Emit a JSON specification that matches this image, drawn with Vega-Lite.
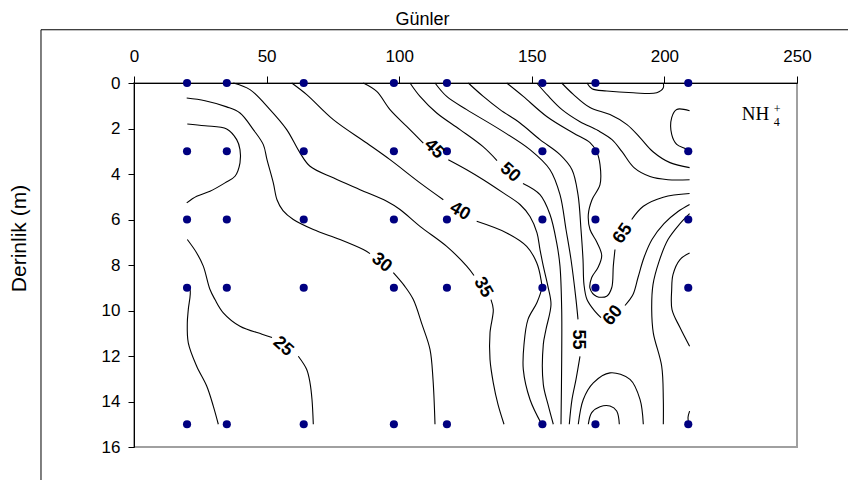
{
  "$schema": "https://vega.github.io/schema/vega-lite/v6.json",
  "width": 663,
  "height": 364,
  "autosize": "none",
  "padding": {"left": 134, "top": 83, "right": 51, "bottom": 33},
  "background": "white",
  "config": {
    "view": {"stroke": "#a0a0a0", "strokeWidth": 2},
    "font": "Liberation Sans",
    "axis": {
      "grid": false, "labelFont": "Liberation Sans", "titleFont": "Liberation Sans",
      "labelColor": "#000", "titleColor": "#000", "tickColor": "#000", "domainColor": "#000",
      "tickWidth": 1, "domainWidth": 1, "labelFontSize": 17, "titleFontWeight": "normal",
      "labelFlush": false, "labelOverlap": false, "titleBaseline": "middle", "titleAlign": "center"
    },
    "axisX": {"labelPadding": 11, "tickSize": 7, "titleX": 288, "titleY": -64, "titleFontSize": 18},
    "axisY": {"labelPadding": 8, "tickSize": 6, "titleX": -115, "titleY": 155, "titleAngle": -90, "titleFontSize": 21}
  },
  "datasets": {
    "pts": [
      {"d":20,"z":0},{"d":35,"z":0},{"d":64,"z":0},{"d":98,"z":0},{"d":118,"z":0},{"d":154,"z":0},{"d":174,"z":0},{"d":209,"z":0},
      {"d":20,"z":3},{"d":35,"z":3},{"d":64,"z":3},{"d":98,"z":3},{"d":118,"z":3},{"d":154,"z":3},{"d":174,"z":3},{"d":209,"z":3},
      {"d":20,"z":6},{"d":35,"z":6},{"d":64,"z":6},{"d":98,"z":6},{"d":118,"z":6},{"d":154,"z":6},{"d":174,"z":6},{"d":209,"z":6},
      {"d":20,"z":9},{"d":35,"z":9},{"d":64,"z":9},{"d":98,"z":9},{"d":118,"z":9},{"d":154,"z":9},{"d":174,"z":9},{"d":209,"z":9},
      {"d":20,"z":15},{"d":35,"z":15},{"d":64,"z":15},{"d":98,"z":15},{"d":118,"z":15},{"d":154,"z":15},{"d":174,"z":15},{"d":209,"z":15}
    ],
    "labels": [
      {"v":"25","d":56.18,"z":11.58},
      {"v":"30","d":93.4,"z":7.9},
      {"v":"35","d":131.6,"z":8.99},
      {"v":"40","d":122.93,"z":5.65},
      {"v":"45","d":113.12,"z":2.9},
      {"v":"50","d":141.78,"z":3.94},
      {"v":"55","d":167.42,"z":11.27},
      {"v":"60","d":180.62,"z":10.22},
      {"v":"65","d":184.39,"z":6.62}
    ],
    "lines": [
      {"c":"20","d":19.87,"z":8.93},{"c":"20","d":21.12,"z":9.08},{"c":"20","d":20.47,"z":9.96},{"c":"20","d":20.1,"z":10.54},{"c":"20","d":20.47,"z":11.42},{"c":"20","d":23.64,"z":12.45},{"c":"20","d":27.41,"z":13.32},{"c":"20","d":29.9,"z":14.2},{"c":"20","d":31.79,"z":15.0},

      {"c":"25a","d":20.1,"z":1.8},{"c":"25a","d":26.77,"z":1.88},{"c":"25a","d":34.95,"z":2.02},{"c":"25a","d":38.73,"z":2.49},{"c":"25a","d":39.97,"z":2.93},{"c":"25a","d":39.97,"z":3.51},{"c":"25a","d":38.08,"z":4.1},{"c":"25a","d":34.31,"z":4.39},{"c":"25a","d":28.66,"z":4.76},{"c":"25a","d":23.64,"z":4.98},{"c":"25a","d":19.87,"z":5.27},

      {"c":"25b1","d":20.1,"z":6.88},{"c":"25b1","d":23.64,"z":7.47},{"c":"25b1","d":26.13,"z":8.05},{"c":"25b1","d":28.66,"z":9.08},{"c":"25b1","d":30.54,"z":9.52},{"c":"25b1","d":33.67,"z":10.1},{"c":"25b1","d":39.97,"z":10.69},{"c":"25b1","d":48.27,"z":11.04},{"c":"25b1","d":52.04,"z":11.19},
      {"c":"25b2","d":61.95,"z":12.01},{"c":"25b2","d":65.12,"z":12.59},{"c":"25b2","d":66.37,"z":13.18},{"c":"25b2","d":67.12,"z":13.91},{"c":"25b2","d":67.61,"z":15.0},

      {"c":"30a","d":19.87,"z":0.66},{"c":"30a","d":26.77,"z":0.78},{"c":"30a","d":34.95,"z":1.05},{"c":"30a","d":39.97,"z":1.32},{"c":"30a","d":44.99,"z":2.05},{"c":"30a","d":48.76,"z":2.71},{"c":"30a","d":50.15,"z":3.37},{"c":"30a","d":52.53,"z":4.39},{"c":"30a","d":53.92,"z":5.13},{"c":"30a","d":56.18,"z":5.61},{"c":"30a","d":60.07,"z":6.0},{"c":"30a","d":67.61,"z":6.44},{"c":"30a","d":77.68,"z":6.88},{"c":"30a","d":86.46,"z":7.32},{"c":"30a","d":88.99,"z":7.5},
      {"c":"30b","d":97.78,"z":8.34},{"c":"30b","d":102.19,"z":8.95},{"c":"30b","d":105.32,"z":9.52},{"c":"30b","d":108.6,"z":10.61},{"c":"30b","d":111.61,"z":11.71},{"c":"30b","d":112.75,"z":13.03},{"c":"30b","d":113.5,"z":15.0},

      {"c":"35a","d":37.44,"z":0},{"c":"35a","d":43.74,"z":0.29},{"c":"35a","d":51.28,"z":1.17},{"c":"35a","d":57.58,"z":2.05},{"c":"35a","d":62.59,"z":3.07},{"c":"35a","d":66.37,"z":3.66},{"c":"35a","d":75.15,"z":4.17},{"c":"35a","d":85.22,"z":4.69},{"c":"35a","d":95.29,"z":5.2},{"c":"35a","d":100.3,"z":5.56},{"c":"35a","d":107.84,"z":6.3},{"c":"35a","d":117.91,"z":7.18},{"c":"35a","d":125.45,"z":8.05},{"c":"35a","d":128.2,"z":8.46},
      {"c":"35b","d":134.61,"z":9.52},{"c":"35b","d":135.48,"z":9.96},{"c":"35b","d":134.24,"z":10.98},{"c":"35b","d":134.24,"z":12.15},{"c":"35b","d":135.48,"z":13.18},{"c":"35b","d":137.25,"z":14.13},{"c":"35b","d":139.52,"z":15.0},

      {"c":"40a","d":59.46,"z":0},{"c":"40a","d":65.12,"z":0.51},{"c":"40a","d":75.15,"z":1.61},{"c":"40a","d":87.75,"z":2.64},{"c":"40a","d":96.53,"z":3.37},{"c":"40a","d":107.84,"z":4.39},{"c":"40a","d":116.63,"z":5.13},
      {"c":"40b","d":129.22,"z":6.08},{"c":"40b","d":140.54,"z":6.59},{"c":"40b","d":148.07,"z":7.18},{"c":"40b","d":151.85,"z":7.9},{"c":"40b","d":153.47,"z":8.64},{"c":"40b","d":153.73,"z":9.0},{"c":"40b","d":151.96,"z":9.65},{"c":"40b","d":148.57,"z":10.39},{"c":"40b","d":147.06,"z":11.49},{"c":"40b","d":146.79,"z":12.59},{"c":"40b","d":149.32,"z":13.91},{"c":"40b","d":153.73,"z":15.0},

      {"c":"45a","d":86.46,"z":0},{"c":"45a","d":91.52,"z":0.37},{"c":"45a","d":96.53,"z":1.17},{"c":"45a","d":102.83,"z":1.91},{"c":"45a","d":109.09,"z":2.64},
      {"c":"45b","d":118.52,"z":3.37},{"c":"45b","d":125.45,"z":3.81},{"c":"45b","d":131.71,"z":4.25},{"c":"45b","d":139.25,"z":4.83},{"c":"45b","d":145.55,"z":5.34},{"c":"45b","d":149.32,"z":5.87},{"c":"45b","d":151.96,"z":6.59},{"c":"45b","d":153.09,"z":7.32},{"c":"45b","d":154.34,"z":8.05},{"c":"45b","d":156.11,"z":8.95},{"c":"45b","d":157.24,"z":9.74},{"c":"45b","d":155.35,"z":10.83},{"c":"45b","d":154.34,"z":11.49},{"c":"45b","d":154.34,"z":13.25},{"c":"45b","d":156.11,"z":14.13},{"c":"45b","d":158.11,"z":15.0},

      {"c":"50a","d":104.07,"z":0},{"c":"50a","d":107.84,"z":0.59},{"c":"50a","d":114.14,"z":1.32},{"c":"50a","d":122.93,"z":2.05},{"c":"50a","d":131.61,"z":2.8},{"c":"50a","d":136.88,"z":3.41},
      {"c":"50b","d":146.68,"z":4.42},{"c":"50b","d":153.09,"z":4.91},{"c":"50b","d":156.86,"z":5.78},{"c":"50b","d":159.39,"z":7.03},{"c":"50b","d":160.63,"z":8.05},{"c":"50b","d":161.27,"z":9.96},{"c":"50b","d":161.27,"z":12.15},{"c":"50b","d":161.01,"z":15.0},

      {"c":"55a","d":113.5,"z":0},{"c":"55a","d":117.91,"z":0.59},{"c":"55a","d":125.45,"z":1.17},{"c":"55a","d":138.01,"z":2.05},{"c":"55a","d":149.32,"z":2.93},{"c":"55a","d":156.86,"z":3.81},{"c":"55a","d":160.63,"z":4.91},{"c":"55a","d":162.9,"z":6.44},{"c":"55a","d":164.78,"z":7.76},{"c":"55a","d":166.67,"z":9.52},{"c":"55a","d":167.42,"z":10.39},
      {"c":"55b","d":168.17,"z":12.02},{"c":"55b","d":166.67,"z":13.03},{"c":"55b","d":165.16,"z":13.91},{"c":"55b","d":164.14,"z":15.0},

      {"c":"60a","d":126.06,"z":0},{"c":"60a","d":131.71,"z":0.59},{"c":"60a","d":138.01,"z":1.17},{"c":"60a","d":145.55,"z":1.76},{"c":"60a","d":153.09,"z":2.49},{"c":"60a","d":160.63,"z":3.15},{"c":"60a","d":165.16,"z":3.81},{"c":"60a","d":167.42,"z":4.91},{"c":"60a","d":168.55,"z":6.44},{"c":"60a","d":169.31,"z":7.76},{"c":"60a","d":169.68,"z":8.86},{"c":"60a","d":170.81,"z":9.52},{"c":"60a","d":173.83,"z":10.04},{"c":"60a","d":176.09,"z":10.31},
      {"c":"60b","d":185.14,"z":9.78},{"c":"60b","d":188.16,"z":9.3},{"c":"60b","d":190.05,"z":8.55},{"c":"60b","d":192.31,"z":7.67},{"c":"60b","d":195.32,"z":6.88},{"c":"60b","d":199.85,"z":6.18},{"c":"60b","d":205.13,"z":5.65},{"c":"60b","d":209.5,"z":5.34},

      {"c":"65a","d":140.54,"z":0},{"c":"65a","d":146.79,"z":0.59},{"c":"65a","d":155.62,"z":1.47},{"c":"65a","d":165.65,"z":2.2},{"c":"65a","d":171.95,"z":2.62},{"c":"65a","d":174.47,"z":3.02},{"c":"65a","d":175.72,"z":3.59},{"c":"65a","d":175.72,"z":4.47},{"c":"65a","d":172.7,"z":5.13},{"c":"65a","d":171.31,"z":5.78},{"c":"65a","d":171.95,"z":6.44},{"c":"65a","d":174.59,"z":7.01},{"c":"65a","d":176.36,"z":7.58},{"c":"65a","d":174.96,"z":8.11},{"c":"65a","d":172.59,"z":8.55},{"c":"65a","d":171.95,"z":9.03},{"c":"65a","d":174.47,"z":9.38},{"c":"65a","d":178.24,"z":9.37},{"c":"65a","d":180.13,"z":9.0},{"c":"65a","d":180.73,"z":8.05},{"c":"65a","d":181.37,"z":7.32},
      {"c":"65b","d":187.67,"z":6.0},{"c":"65b","d":192.05,"z":5.42},{"c":"65b","d":199.59,"z":5.02},{"c":"65b","d":209.5,"z":4.86},

      {"c":"70","d":151.85,"z":0},{"c":"70","d":156.11,"z":0.56},{"c":"70","d":161.39,"z":1.17},{"c":"70","d":168.17,"z":1.7},{"c":"70","d":174.96,"z":2.09},{"c":"70","d":180.24,"z":2.49},{"c":"70","d":184.01,"z":3.02},{"c":"70","d":188.54,"z":3.72},{"c":"70","d":194.57,"z":4.11},{"c":"70","d":201.36,"z":4.25},{"c":"70","d":209.5,"z":4.25},

      {"c":"75","d":161.27,"z":0},{"c":"75","d":165.65,"z":0.5},{"c":"75","d":171.95,"z":1.08},{"c":"75","d":179.49,"z":1.39},{"c":"75","d":185.9,"z":1.83},{"c":"75","d":190.8,"z":2.4},{"c":"75","d":195.7,"z":3.02},{"c":"75","d":202.11,"z":3.5},{"c":"75","d":209.5,"z":3.72},

      {"c":"loop","d":170.81,"z":0},{"c":"loop","d":172.7,"z":0.25},{"c":"loop","d":178.24,"z":0.35},{"c":"loop","d":188.27,"z":0.43},{"c":"loop","d":197.1,"z":0.43},{"c":"loop","d":199.59,"z":0.21},{"c":"loop","d":199.59,"z":0},

      {"c":"arcTR","d":209.5,"z":1.22},{"c":"arcTR","d":204.64,"z":1.16},{"c":"arcTR","d":202.75,"z":1.52},{"c":"arcTR","d":202.75,"z":2.26},{"c":"arcTR","d":204.64,"z":2.7},{"c":"arcTR","d":208.41,"z":2.92},{"c":"arcTR","d":209.5,"z":3.06},

      {"c":"55R","d":209.5,"z":5.74},{"c":"55R","d":205.88,"z":6.18},{"c":"55R","d":201.36,"z":6.88},{"c":"55R","d":197.96,"z":7.85},{"c":"55R","d":195.7,"z":8.86},{"c":"55R","d":195.21,"z":9.96},{"c":"55R","d":195.81,"z":10.98},{"c":"55R","d":198.98,"z":12.45},{"c":"55R","d":199.59,"z":13.91},{"c":"55R","d":199.59,"z":15.0},

      {"c":"arcR","d":209.5,"z":7.47},{"c":"arcR","d":205.88,"z":7.76},{"c":"arcR","d":203.24,"z":8.42},{"c":"arcR","d":202.75,"z":9.08},{"c":"arcR","d":202.87,"z":9.96},{"c":"arcR","d":205.88,"z":10.75},{"c":"arcR","d":209.5,"z":11.57},

      {"c":"stub","d":209.5,"z":14.42},{"c":"stub","d":208.9,"z":14.7},{"c":"stub","d":209.2,"z":15.0},

      {"c":"archO","d":167.53,"z":15.0},{"c":"archO","d":169.42,"z":13.91},{"c":"archO","d":173.19,"z":13.18},{"c":"archO","d":179.49,"z":12.74},{"c":"archO","d":187.03,"z":13.03},{"c":"archO","d":190.8,"z":13.91},{"c":"archO","d":192.05,"z":15.0},

      {"c":"archI","d":171.31,"z":15.0},{"c":"archI","d":172.59,"z":14.49},{"c":"archI","d":175.72,"z":14.23},{"c":"archI","d":179.49,"z":14.2},{"c":"archI","d":182.01,"z":14.42},{"c":"archI","d":183.0,"z":15.0}
    ]
  },
  "layer": [
    {
      "data": {"name": "lines"},
      "mark": {"type": "line", "stroke": "#000", "strokeWidth": 1.1, "interpolate": "catmull-rom"},
      "encoding": {
        "x": {"field": "d", "type": "quantitative", "scale": {"domain": [0, 250], "nice": false, "zero": false},
              "axis": {"orient": "top", "title": "Günler", "values": [0, 50, 100, 150, 200, 250]}},
        "y": {"field": "z", "type": "quantitative", "scale": {"domain": [0, 16], "reverse": true, "nice": false, "zero": false},
              "axis": {"title": "Derinlik (m)", "values": [0, 2, 4, 6, 8, 10, 12, 14, 16]}},
        "detail": {"field": "c"},
        "order": {"value": null}
      }
    },
    {
      "data": {"name": "pts"},
      "mark": {"type": "circle", "size": 66, "color": "#000080", "opacity": 1},
      "encoding": {
        "x": {"field": "d", "type": "quantitative", "axis": {"orient": "top", "title": "Günler", "values": [0, 50, 100, 150, 200, 250]}},
        "y": {"field": "z", "type": "quantitative", "axis": {"title": "Derinlik (m)", "values": [0, 2, 4, 6, 8, 10, 12, 14, 16]}}
      }
    },
    {
      "data": {"name": "labels"},
      "mark": {"type": "text", "fontSize": 18, "fontWeight": "bold", "color": "#000", "font": "Liberation Sans", "align": "center", "baseline": "middle"},
      "encoding": {
        "x": {"field": "d", "type": "quantitative", "axis": {"orient": "top", "title": "Günler", "values": [0, 50, 100, 150, 200, 250]}},
        "y": {"field": "z", "type": "quantitative", "axis": {"title": "Derinlik (m)", "values": [0, 2, 4, 6, 8, 10, 12, 14, 16]}},
        "text": {"field": "v"},
        "angle": {"field": "v", "type": "ordinal", "scale": {"type": "ordinal", "domain": ["25", "30", "35", "40", "45", "50", "55", "60", "65"], "range": [42, 38, 60, 30, 45, 42, 90, -50, -55]}, "legend": null}
      }
    },
    {
      "data": {"values": [{}]},
      "mark": {"type": "rule", "color": "#000", "strokeWidth": 1},
      "encoding": {
        "x": {"datum": -35.07, "axis": {"orient": "top", "title": "Günler", "values": [0, 50, 100, 150, 200, 250]}},
        "y": {"datum": -2.34, "axis": {"title": "Derinlik (m)", "values": [0, 2, 4, 6, 8, 10, 12, 14, 16]}},
        "y2": {"datum": 18}
      }
    },
    {
      "data": {"values": [{}]},
      "mark": {"type": "rule", "color": "#000", "strokeWidth": 1},
      "encoding": {
        "x": {"datum": -35.07, "axis": {"orient": "top", "title": "Günler", "values": [0, 50, 100, 150, 200, 250]}},
        "x2": {"datum": 270},
        "y": {"datum": -2.34, "axis": {"title": "Derinlik (m)", "values": [0, 2, 4, 6, 8, 10, 12, 14, 16]}}
      }
    },
    {
      "data": {"values": [{}]},
      "mark": {"type": "text", "text": "NH", "font": "Liberation Serif", "fontSize": 19, "align": "left", "baseline": "alphabetic", "color": "#000"},
      "encoding": {
        "x": {"datum": 229.15, "axis": {"orient": "top", "title": "Günler", "values": [0, 50, 100, 150, 200, 250]}},
        "y": {"datum": 1.64, "axis": {"title": "Derinlik (m)", "values": [0, 2, 4, 6, 8, 10, 12, 14, 16]}}
      }
    },
    {
      "data": {"values": [{}]},
      "mark": {"type": "text", "text": "4", "font": "Liberation Serif", "fontSize": 12, "align": "left", "baseline": "alphabetic", "color": "#000"},
      "encoding": {
        "x": {"datum": 241.2, "axis": {"orient": "top", "title": "Günler", "values": [0, 50, 100, 150, 200, 250]}},
        "y": {"datum": 1.88, "axis": {"title": "Derinlik (m)", "values": [0, 2, 4, 6, 8, 10, 12, 14, 16]}}
      }
    },
    {
      "data": {"values": [{}]},
      "mark": {"type": "text", "text": "+", "font": "Liberation Serif", "fontSize": 12, "align": "left", "baseline": "alphabetic", "color": "#000"},
      "encoding": {
        "x": {"datum": 241.2, "axis": {"orient": "top", "title": "Günler", "values": [0, 50, 100, 150, 200, 250]}},
        "y": {"datum": 1.3, "axis": {"title": "Derinlik (m)", "values": [0, 2, 4, 6, 8, 10, 12, 14, 16]}}
      }
    }
  ]
}
